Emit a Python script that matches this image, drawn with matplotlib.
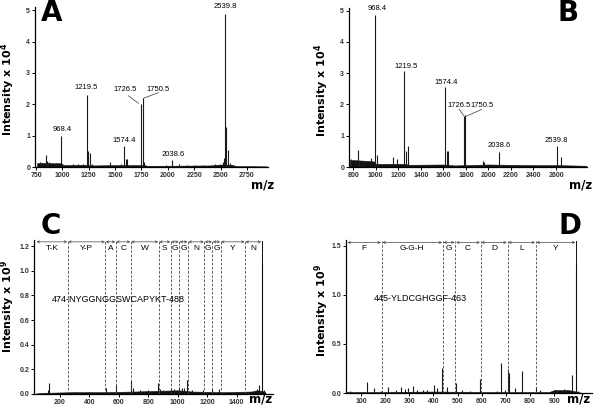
import matplotlib
matplotlib.use("Agg")
import matplotlib.pyplot as plt
from matplotlib.ticker import FormatStrFormatter

# ---- panel A : MALDI spectrum 1 (intensity x 1e4)
a_mz  = [790, 810, 842, 855, 870, 900, 940, 984, 1000, 1100, 1150, 1200, 1237, 1245, 1258, 1280,
         1453, 1560, 1586, 1600, 1612, 1741, 1760, 1770, 1985, 2044, 2110, 2180, 2260, 2330,
         2450, 2520, 2528, 2538, 2552, 2568, 2585, 2620, 2700]
a_int = [0.15, 0.14, 0.37, 0.18, 0.15, 0.12, 0.12, 1.0, 0.1, 0.08, 0.1, 0.08, 2.3, 0.52, 0.45, 0.1,
         0.17, 0.08, 0.68, 0.25, 0.27, 2.02, 2.19, 0.15, 0.07, 0.22, 0.08, 0.05, 0.07, 0.05,
         0.08, 0.15, 0.3, 4.87, 1.27, 0.55, 0.12, 0.05, 0.04]
a_base_mz = [760, 800, 900, 990, 1010, 1200, 1300, 1500, 1780, 1800, 2000, 2400, 2500, 2600, 2650, 2940]
a_base    = [0.12, 0.13, 0.12, 0.12, 0.06, 0.07, 0.05, 0.06, 0.06, 0.04, 0.04, 0.05, 0.08, 0.07, 0.03, 0.02]
a_labels = ["968.4", "1219.5", "1574.4", "1726.5", "1750.5", "2038.6", "2539.8"]
a_lab_x  = [997, 1223, 1582, 1598, 1908, 2053, 2549]
a_lab_y  = [1.21, 2.52, 0.85, 2.47, 2.47, 0.41, 5.13]

# ---- panel B : MALDI spectrum 2
b_mz  = [780, 844, 850, 900, 960, 992, 1013, 1149, 1185, 1253, 1268, 1283,
         1617, 1632, 1645, 1783, 1795, 1949, 1960, 2097, 2606, 2645]
b_int = [0.25, 0.55, 0.2, 0.2, 0.3, 4.87, 0.37, 0.31, 0.25, 3.06, 0.5, 0.68,
         2.55, 0.52, 0.5, 1.63, 1.65, 0.2, 0.15, 0.48, 0.67, 0.33]
b_base_mz = [770, 800, 900, 980, 1000, 1250, 1300, 1600, 1700, 2000, 2400, 2600, 2870]
b_base    = [0.22, 0.22, 0.2, 0.18, 0.1, 0.1, 0.07, 0.08, 0.05, 0.08, 0.06, 0.06, 0.04]
b_labels = ["968.4", "1219.5", "1574.4", "1726.5", "1750.5", "2038.6", "2539.8"]
b_lab_x  = [1008, 1266, 1623, 1741, 1940, 2098, 2602]
b_lab_y  = [5.05, 3.22, 2.69, 1.95, 1.95, 0.68, 0.86]

# ---- panel C : MS/MS of 474-NYGGNGGSWCAPYKT-488 (intensity x 1e9)
c_mz  = [128, 115, 300, 400, 512, 578, 680, 698, 740, 770, 800, 868, 880, 900, 952, 974,
         1008, 1026, 1044, 1065, 1100, 1174, 1235, 1280, 1456, 1536, 1554, 1570, 1586]
c_int = [0.087, 0.03, 0.02, 0.015, 0.046, 0.07, 0.105, 0.05, 0.03, 0.02, 0.03, 0.087, 0.04, 0.03,
         0.05, 0.04, 0.055, 0.045, 0.05, 0.11, 0.03, 0.03, 0.04, 0.04, 0.02, 0.04, 0.07, 1.06, 0.03]
c_base_mz = [40, 100, 300, 500, 700, 850, 1000, 1100, 1300, 1500, 1540, 1590, 1600]
c_base    = [0.005, 0.01, 0.015, 0.015, 0.02, 0.025, 0.03, 0.02, 0.015, 0.02, 0.03, 0.02, 0.0]
c_bounds = [37, 252, 508, 578, 680, 870, 952, 1010, 1069, 1180, 1235, 1291, 1457, 1570]
c_res    = ["T-K", "Y-P", "A", "C", "W", "S", "G", "G", "N", "G", "G", "Y", "N"]
c_pep = "474-NYGGNGGSWCAPYKT-488"

# ---- panel D : MS/MS of 445-YLDCGHGGF-463
d_mz  = [54, 126, 152, 183, 213, 245, 266, 282, 296, 314, 331, 356, 375, 403, 416, 434, 455,
         492, 517, 552, 593, 662, 682, 698, 709, 712, 738, 766, 825, 842, 904, 939, 953, 973, 991, 1000]
d_int = [0.02, 0.11, 0.05, 0.02, 0.06, 0.03, 0.06, 0.04, 0.05, 0.07, 0.03, 0.03, 0.03, 0.08, 0.05,
         0.25, 0.06, 0.10, 0.03, 0.02, 0.145, 0.02, 0.305, 0.03, 0.24, 0.2, 0.05, 0.225, 0.065, 0.03,
         0.03, 0.04, 0.03, 0.18, 1.32, 0.02]
d_base_mz = [40, 200, 400, 600, 800, 880, 900, 960, 1000, 1015]
d_base    = [0.01, 0.01, 0.015, 0.01, 0.01, 0.01, 0.03, 0.03, 0.01, 0.0]
d_bounds = [41, 186, 439, 491, 596, 707, 824, 991]
d_res    = ["F", "G-G-H", "G", "C", "D", "L", "Y"]
d_pep = "445-YLDCGHGGF-463"

W, H = 600, 413
fig = plt.figure(figsize=(W / 100, H / 100), dpi=100)
small = "Liberation Sans"

def make_ax(l, r, b, t):
    # pixel box -> figure axes
    ax = fig.add_axes([l / W, 1 - b / H, (r - l) / W, (b - t) / H])
    for s in ["top", "right"]:
        ax.spines[s].set_visible(False)
    for s in ["left", "bottom"]:
        ax.spines[s].set_linewidth(0.9)
    ax.tick_params(length=2, width=0.7, pad=1.5, labelsize=5, labelcolor="#333")
    return ax

def spectrum(ax, mz, inten, bmz, base):
    ax.fill_between(bmz, 0, base, color="#111", lw=0.4)
    ax.vlines(mz, 0, inten, color="#1a1a1a", lw=0.8)

def side_text(letter, lx, ly, exp, yx, yy, mx, my):
    fig.text(lx / W, 1 - ly / H, letter, fontsize=20, fontweight="bold", ha="center", va="center")
    fig.text(yx / W, 1 - yy / H, r"Intensity x $\mathbf{10^{%s}}$" % exp, rotation=90,
             fontsize=8, fontweight="bold", ha="center", va="center")
    fig.text(mx / W, 1 - my / H, "m/z", fontsize=8.5, fontweight="bold", ha="center", va="baseline")

def style_ticks(ax):
    for lab in ax.get_xticklabels() + ax.get_yticklabels():
        lab.set_fontfamily(small)
        lab.set_fontweight("bold")

# A
axA = make_ax(35, 268, 167, 7)
spectrum(axA, a_mz, a_int, a_base_mz, a_base)
axA.set_xlim(740, 2950)
axA.set_ylim(0, 5.1)
axA.set_xticks(range(750, 2751, 250))
axA.set_yticks(range(0, 6))
style_ticks(axA)
for t, x, y in zip(a_labels, a_lab_x, a_lab_y):
    axA.text(x, y, t, fontsize=5.5, family=small, ha="center", va="center", clip_on=False)
axA.plot([1626, 1721], [2.27, 2.03], color="#333", lw=0.5)
axA.plot([1768, 1911], [2.19, 2.37], color="#333", lw=0.5)
side_text("A", 51.5, 13, 4, 8, 89, 263, 188.5)

# B
axB = make_ax(349, 587, 167, 8)
spectrum(axB, b_mz, b_int, b_base_mz, b_base)
axB.set_xlim(762, 2875)
axB.set_ylim(0, 5.08)
axB.set_xticks(range(800, 2601, 200))
axB.set_yticks(range(0, 6))
style_ticks(axB)
for t, x, y in zip(b_labels, b_lab_x, b_lab_y):
    axB.text(x, y, t, fontsize=5.5, family=small, ha="center", va="center", clip_on=False)
axB.plot([1741, 1783], [1.84, 1.63], color="#333", lw=0.5)
axB.plot([1807, 1940], [1.63, 1.84], color="#333", lw=0.5)
side_text("B", 568.5, 13, 4, 322, 90, 581, 188.5)

def sequence(ax, bounds, res, ytop, yarr, ylab):
    for x in bounds[1:-1]:
        ax.plot([x, x], [0, ytop], color="#444", lw=0.6, ls=(0, (3, 2)))
    ax.plot([bounds[-1], bounds[-1]], [0, ytop], color="#111", lw=0.7)
    for x0, x1, r in zip(bounds[:-1], bounds[1:], res):
        ax.annotate("", xy=(x1 - 3, yarr), xytext=(x0 + 3, yarr),
                    arrowprops=dict(arrowstyle="<->", lw=0.5, color="#444",
                                    mutation_scale=4, shrinkA=0, shrinkB=0))
        ax.text((x0 + x1) / 2, ylab, r, fontsize=6, family=small, ha="center", va="center")

# C
axC = make_ax(34, 273, 394, 240)
spectrum(axC, c_mz, c_int, c_base_mz, c_base)
axC.set_xlim(23, 1647)
axC.set_ylim(0, 1.25)
axC.set_xticks(range(200, 1401, 200))
axC.set_yticks([0, 0.2, 0.4, 0.6, 0.8, 1.0, 1.2])
axC.yaxis.set_major_formatter(FormatStrFormatter("%.1f"))
style_ticks(axC)
sequence(axC, c_bounds, c_res, 1.24, 1.235, 1.185)
axC.text(143, 0.77, c_pep, fontsize=6.5, family=small, ha="left", va="center")
side_text("C", 51, 226, 9, 8, 306, 261, 402)

# D
axD = make_ax(346, 592, 393, 240)
spectrum(axD, d_mz, d_int, d_base_mz, d_base)
axD.set_xlim(38, 1057)
axD.set_ylim(0, 1.56)
axD.set_xticks(range(100, 901, 100))
axD.set_yticks([0, 0.5, 1.0, 1.5])
axD.yaxis.set_major_formatter(FormatStrFormatter("%.1f"))
style_ticks(axD)
sequence(axD, d_bounds, d_res, 1.545, 1.535, 1.47)
axD.text(154, 0.96, d_pep, fontsize=6.5, family=small, ha="left", va="center")
side_text("D", 570, 226, 9, 322, 310, 579, 402)

fig.savefig("out.png", dpi=100)
